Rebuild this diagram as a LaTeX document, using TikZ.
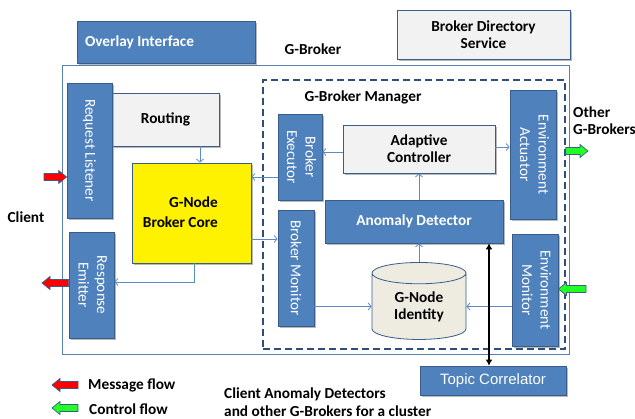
\documentclass[tikz,border=0pt]{standalone}
\usepackage{fontspec}
\setmainfont{Carlito}
\newfontfamily\arialfont{Liberation Sans}
\usepackage{graphicx}
\usetikzlibrary{arrows.meta,shapes.geometric,shadows,calc}

\definecolor{ofblue}{HTML}{4F81BD}
\definecolor{boxedge}{HTML}{385D8A}
\definecolor{panel}{HTML}{F2F2F2}
\definecolor{connblue}{HTML}{5B8BC7}
\definecolor{dashblue}{HTML}{2E4F7A}
\definecolor{outerline}{HTML}{5A7FB5}
\definecolor{cylfill}{HTML}{EEECE1}
\definecolor{msgred}{HTML}{FF0000}
\definecolor{ctlgreen}{HTML}{22FF22}

% horizontal block arrow from a tail point to a tip point
\newcommand\blockarrow[3]{%
  \path[blockarr, fill=#1] let \p1=(#2), \p2=(#3), \n1={((\x2>\x1)*2-1)*8} in
    (\x1,{\y2+3.5pt}) -- ({\x2-\n1*1pt},{\y2+3.5pt}) -- ({\x2-\n1*1pt},{\y2+6.5pt})
    -- (\x2,\y2) -- ({\x2-\n1*1pt},{\y2-6.5pt}) -- ({\x2-\n1*1pt},{\y2-3.5pt})
    -- (\x1,{\y2-3.5pt}) -- cycle;}

\begin{document}
\begin{tikzpicture}[x=1pt,y=-1pt,
  box/.style={draw=boxedge, line width=0.8pt, inner sep=0pt, align=center,
    font=\fontsize{15.3}{17}\selectfont\bfseries,
    drop shadow={shadow xshift=2pt, shadow yshift=-2pt, fill=black!50, opacity=0.55}},
  bluebox/.style={box, fill=ofblue, text=white},
  vbox/.style={bluebox, font=\fontsize{15.2}{18.5}\selectfont\mdseries},
  graybox/.style={box, fill=panel, text=black},
  lbl/.style={inner sep=0pt, font=\fontsize{15.3}{17}\selectfont\bfseries, align=left},
  conn/.style={draw=connblue, line width=0.8pt, -{Straight Barb[length=3pt,width=7pt]}},
  blockarr/.style={draw=boxedge, line width=0.7pt}]
\useasboundingbox (0,0) rectangle (635,419);

% containers
\node[draw=outerline, line width=0.9pt, minimum width=507pt, minimum height=289pt, inner sep=0pt] (gbroker) at (315.5,209.5) {};
\node[draw=dashblue, line width=1.6pt, dash pattern=on 7pt off 4pt, minimum width=302pt, minimum height=269pt, inner sep=0pt] (mgr) at (414,214.5) {};

% outside boxes
\node[bluebox, minimum width=178pt, minimum height=42pt] (overlay) at (166,42)
  {\hspace*{-53pt}Overlay Interface};
\node[graybox, minimum width=173pt, minimum height=49pt] (bds) at (483.5,34.5) {Broker Directory\\Service};
\node[bluebox, minimum width=146pt, minimum height=29pt, font=\arialfont\fontsize{15}{17}\selectfont] (tc) at (493,380.5) {Topic Correlator};

% broker core side
\node[graybox, minimum width=107pt, minimum height=53pt] (routing) at (165.5,119.5) {Routing};
\node[vbox, minimum width=45pt, minimum height=135pt] (rl) at (89.5,150.5) {\rotatebox{-90}{Request Listener}};
\node[vbox, minimum width=45pt, minimum height=106pt] (re) at (91.5,285)
  {\rotatebox{-90}{\begin{tabular}{@{}c@{}}Response\\Emitter\end{tabular}}};
\node[box, fill=yellow, minimum width=119pt, minimum height=100pt] (core) at (191.5,213) {};
\node[lbl, align=right, anchor=east, font=\fontsize{15.3}{20}\selectfont\bfseries] (coretext) at (218,212) {G-Node\\Broker Core};

% manager side
\node[vbox, minimum width=44pt, minimum height=86pt] (be) at (300,157)
  {\rotatebox{-90}{\begin{tabular}{@{}c@{}}Broker\\Executor\end{tabular}}};
\node[vbox, minimum width=36pt, minimum height=116pt] (bm) at (296,268) {\rotatebox{-90}{Broker Monitor}};
\node[graybox, minimum width=152pt, minimum height=48pt] (ac) at (419,149) {Adaptive\\Controller};
\node[bluebox, minimum width=178pt, minimum height=43pt] (ad) at (414,221.5) {Anomaly Detector};
\node[vbox, minimum width=46pt, minimum height=129pt] (ea) at (533,154.5)
  {\rotatebox{-90}{\begin{tabular}{@{}c@{}}Environment\\Actuator\end{tabular}}};
\node[vbox, minimum width=46pt, minimum height=112pt] (em) at (535,290)
  {\rotatebox{-90}{\begin{tabular}{@{}c@{}}Environment\\Monitor\end{tabular}}};
\node[cylinder, shape border rotate=90, aspect=0.43, draw=boxedge, line width=0.8pt, fill=cylfill,
  minimum width=94pt, minimum height=77pt, inner sep=0pt, align=center,
  font=\fontsize{15.3}{17}\selectfont\bfseries] (gid) at (419,306.5) {G-Node\\Identity};

% labels
\node[lbl] (gblabel) at (313,49) {G-Broker};
\node[lbl] (mgrlabel) at (363,97) {G-Broker Manager};
\node[lbl, anchor=west] (otherlabel) at (573,120.5) {Other\\G-Brokers};
\node[lbl] (clientlabel) at (26,217) {Client};
\node[lbl, anchor=west, font=\fontsize{15.3}{18}\selectfont\bfseries] (cluster) at (224,402) {Client Anomaly Detectors\\and other G-Brokers for a cluster};
\node[lbl, anchor=west] (lgmsg) at (88,385) {Message flow};
\node[lbl, anchor=west] (lgctl) at (89,409) {Control flow};

% connectors
\draw[conn] ([xshift=34.5pt]routing.south) -- ([xshift=8.5pt]core.north);
\coordinate (beout) at ([yshift=-20pt]be.west);
\draw[conn] (beout) -- (beout -| core.east);
\coordinate (acleft) at ([yshift=-3pt]ac.west);
\draw[conn] (acleft) -- (acleft -| be.east);
\coordinate (acright) at ([yshift=2pt]ac.east);
\draw[conn] (acright) -- (acright -| ea.west);
\draw[conn] (ac.south |- ad.north) -- (ac.south);
\coordinate (coremon) at ([yshift=-26pt]core.east);
\draw[conn] (coremon) -- (coremon -| bm.west);
\draw[conn] ([xshift=2.5pt]core.south) |- ([yshift=3pt]re.east);
\draw[conn] (bm.east |- gid.west) -- (gid.west);
\draw[conn] (em.west |- gid.east) -- (gid.east);
\draw[conn] (gid.north) -- (gid.north |- ad.south);
\coordinate (corr) at ([xshift=75pt]ad.south);
\draw[line width=1.8pt, {Latex[length=6pt,width=7pt]}-{Latex[length=6pt,width=7pt]}] (corr) -- (corr |- tc.north);

% message and control flow arrows
\coordinate (msgin) at (44,177);
\blockarrow{msgred}{msgin}{msgin -| rl.west}
\coordinate (msgout) at (42,283);
\blockarrow{msgred}{msgout -| re.west}{msgout}
\coordinate (ctlout) at (588,151);
\blockarrow{ctlgreen}{ctlout -| mgr.east}{ctlout}
\coordinate (ctlin) at (586,289);
\blockarrow{ctlgreen}{ctlin}{ctlin -| em.east}
\coordinate (lgmtail) at (78,385);
\coordinate (lgmtip) at (52,385);
\blockarrow{msgred}{lgmtail}{lgmtip}
\coordinate (lgctail) at (78,408);
\coordinate (lgctip) at (52,408);
\blockarrow{ctlgreen}{lgctail}{lgctip}
\end{tikzpicture}
\end{document}
